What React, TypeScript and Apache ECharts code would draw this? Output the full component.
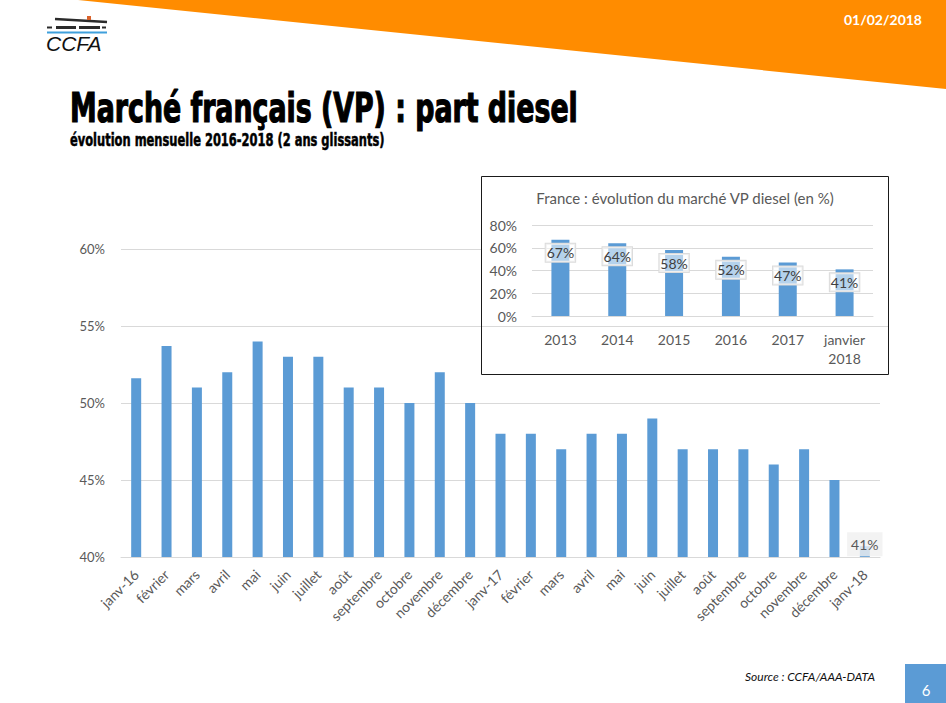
import React, { useEffect, useRef } from "react";
import * as echarts from "echarts";

const months = [
  "janv-16", "février", "mars", "avril", "mai", "juin", "juillet", "août", "septembre", "octobre", "novembre", "décembre",
  "janv-17", "février", "mars", "avril", "mai", "juin", "juillet", "août", "septembre", "octobre", "novembre", "décembre",
  "janv-18",
];
const dieselShare = [
  51.6, 53.7, 51, 52, 54, 53, 53, 51, 51, 50, 52, 50,
  48, 48, 47, 48, 48, 49, 47, 47, 47, 46, 47, 45,
  40.7,
];
const mainYMin = 40;
const mainYMax = 60;
const mainYStep = 5;

const insetYears = ["2013", "2014", "2015", "2016", "2017", "janvier\n2018"];
const insetShare = [67, 64, 58, 52, 47, 41];
const insetYMin = 0;
const insetYMax = 80;
const insetYStep = 20;

const FONT = "Lato, 'Open Sans', sans-serif";
const TITLE_FONT = "'DejaVu Sans Condensed', 'Liberation Sans Narrow', sans-serif";
const BLUE = "#5B9BD5";
const GREY = "#595959";
const GRID = "#d9d9d9";

export default function App() {
  const ref = useRef<HTMLDivElement>(null);
  useEffect(() => {
    if (!ref.current) return;
    const chart = echarts.init(ref.current, null, { renderer: "svg" });
    const lastIdx = dieselShare.length - 1;
    chart.setOption({
      animation: false,
      backgroundColor: "#ffffff",
      textStyle: { fontFamily: FONT },
      grid: [
        { left: 121, right: 66, top: 249, bottom: 146 },
        { left: 532, right: 73, top: 225, bottom: 387 },
      ],
      xAxis: [
        {
          gridIndex: 0,
          type: "category",
          data: months,
          z: 0,
          axisLine: { lineStyle: { color: GRID, width: 1 } },
          axisTick: { show: false },
          axisLabel: { interval: 0, rotate: 45, margin: 15, color: GREY, fontSize: 14, fontFamily: FONT },
        },
        {
          gridIndex: 1,
          type: "category",
          data: insetYears,
          z: 3,
          axisLine: { lineStyle: { color: GRID, width: 1 } },
          axisTick: { show: false },
          axisLabel: { interval: 0, margin: 14, color: GREY, fontSize: 14, lineHeight: 19, fontFamily: FONT },
        },
      ],
      yAxis: [
        {
          gridIndex: 0,
          type: "value",
          min: mainYMin,
          max: mainYMax,
          interval: mainYStep,
          z: 0,
          axisLine: { show: false },
          axisTick: { show: false },
          splitLine: { lineStyle: { color: GRID, width: 1 } },
          axisLabel: { formatter: "{value}%", margin: 16, color: GREY, fontSize: 13, fontFamily: FONT },
        },
        {
          gridIndex: 1,
          type: "value",
          min: insetYMin,
          max: insetYMax,
          interval: insetYStep,
          z: 3,
          axisLine: { show: false },
          axisTick: { show: false },
          splitLine: { lineStyle: { color: GRID, width: 1 } },
          axisLabel: { formatter: "{value}%", margin: 15, color: GREY, fontSize: 14, fontFamily: FONT },
        },
      ],
      series: [
        {
          type: "bar",
          xAxisIndex: 0,
          yAxisIndex: 0,
          barWidth: 10,
          z: 2,
          itemStyle: { color: BLUE },
          data: dieselShare.map((v, i) =>
            i === lastIdx
              ? {
                  value: v,
                  label: {
                    show: true,
                    position: "top",
                    distance: -10,
                    formatter: (p: any) => Math.round(p.value) + "%",
                    color: GREY,
                    fontSize: 14,
                    fontFamily: FONT,
                    backgroundColor: "rgba(240,240,240,0.8)",
                    padding: [5, 4],
                  },
                }
              : v
          ),
        },
        {
          type: "bar",
          xAxisIndex: 1,
          yAxisIndex: 1,
          barWidth: 18,
          z: 4,
          itemStyle: { color: BLUE },
          label: {
            show: true,
            position: "insideTop",
            distance: 4,
            formatter: (p: any) => Math.round(p.value) + "%",
            color: "#404040",
            fontSize: 14,
            fontFamily: FONT,
            backgroundColor: "rgba(255,255,255,0.55)",
            borderColor: "#dcdcdc",
            borderWidth: 1,
            padding: [2, 1],
          },
          data: insetShare,
        },
      ],
      graphic: {
        elements: [
          // orange header band
          {
            type: "polygon",
            z: 1,
            shape: { points: [[78, 0], [946, 0], [946, 89]] },
            style: { fill: "#FF8C00" },
          },
          {
            type: "text",
            z: 5,
            x: 922,
            y: 19,
            style: {
              text: "01/02/2018",
              fill: "#ffffff",
              font: "bold 14px " + FONT,
              textAlign: "right",
              textVerticalAlign: "middle",
            },
          },
          // CCFA logo
          {
            type: "line",
            z: 5,
            shape: { x1: 55, y1: 19, x2: 107, y2: 22 },
            style: { stroke: "#2b2b2b", lineWidth: 2.5 },
          },
          {
            type: "rect",
            z: 6,
            shape: { x: 87, y: 16, width: 4, height: 4 },
            style: { fill: "#d9622b" },
          },
          {
            type: "line",
            z: 5,
            shape: { x1: 47, y1: 27.5, x2: 52, y2: 27.5 },
            style: { stroke: "#2b2b2b", lineWidth: 2 },
          },
          {
            type: "line",
            z: 5,
            shape: { x1: 56, y1: 27.5, x2: 76, y2: 27.5 },
            style: { stroke: "#2b2b2b", lineWidth: 3 },
          },
          {
            type: "line",
            z: 5,
            shape: { x1: 79, y1: 27.5, x2: 100, y2: 27.5 },
            style: { stroke: "#2b2b2b", lineWidth: 3 },
          },
          {
            type: "line",
            z: 5,
            shape: { x1: 102, y1: 27.5, x2: 106, y2: 27.5 },
            style: { stroke: "#2b2b2b", lineWidth: 2 },
          },
          {
            type: "line",
            z: 5,
            shape: { x1: 47, y1: 32.5, x2: 107, y2: 32.5 },
            style: { stroke: "#3fa0dc", lineWidth: 2 },
          },
          {
            type: "text",
            z: 5,
            x: 46,
            y: 43,
            style: {
              text: "CCFA",
              fill: "#111111",
              font: "italic 21px 'Liberation Sans', Arial, sans-serif",
              textVerticalAlign: "middle",
            },
          },
          // Titles
          {
            type: "text",
            z: 5,
            x: 70,
            y: 108,
            scaleX: 0.745,
            style: {
              text: "Marché français (VP) : part diesel",
              fill: "#000000",
              stroke: "#000000",
              lineWidth: 1.2,
              font: "bold 40px " + TITLE_FONT,
              textVerticalAlign: "middle",
              textShadowColor: "#3b78d0",
              textShadowOffsetX: 1.5,
              textShadowOffsetY: 0.5,
              textShadowBlur: 0,
            },
          },
          {
            type: "text",
            z: 5,
            x: 70,
            y: 140,
            scaleX: 0.75,
            style: {
              text: "évolution mensuelle 2016-2018 (2 ans glissants)",
              fill: "#000000",
              stroke: "#000000",
              lineWidth: 0.5,
              font: "bold 17px " + TITLE_FONT,
              textVerticalAlign: "middle",
            },
          },
          // inset box
          {
            type: "rect",
            z: 1,
            shape: { x: 481.5, y: 176.5, width: 407, height: 198 },
            style: { fill: "#ffffff", stroke: "#1a1a1a", lineWidth: 1 },
          },
          {
            type: "line",
            z: 3,
            shape: { x1: 482, y1: 326.5, x2: 888, y2: 326.5 },
            style: { stroke: GRID, lineWidth: 1 },
          },
          {
            type: "text",
            z: 5,
            x: 685,
            y: 198,
            style: {
              text: "France : évolution du marché VP diesel (en %)",
              fill: GREY,
              font: "15px " + FONT,
              textAlign: "center",
              textVerticalAlign: "middle",
            },
          },
          // footer
          {
            type: "text",
            z: 5,
            x: 875,
            y: 676,
            style: {
              text: "Source : CCFA/AAA-DATA",
              fill: "#111111",
              font: "italic 12px " + FONT,
              textAlign: "right",
              textVerticalAlign: "middle",
            },
          },
          {
            type: "rect",
            z: 5,
            shape: { x: 905, y: 664, width: 41, height: 39 },
            style: { fill: BLUE },
          },
          {
            type: "text",
            z: 6,
            x: 926,
            y: 690,
            style: {
              text: "6",
              fill: "#ffffff",
              font: "15px " + FONT,
              textAlign: "center",
              textVerticalAlign: "middle",
            },
          },
        ],
      },
    });
    return () => chart.dispose();
  }, []);
  return (
    <div
      ref={ref}
      style={{ position: "fixed", left: 0, top: 0, width: 946, height: 703 }}
    />
  );
}
